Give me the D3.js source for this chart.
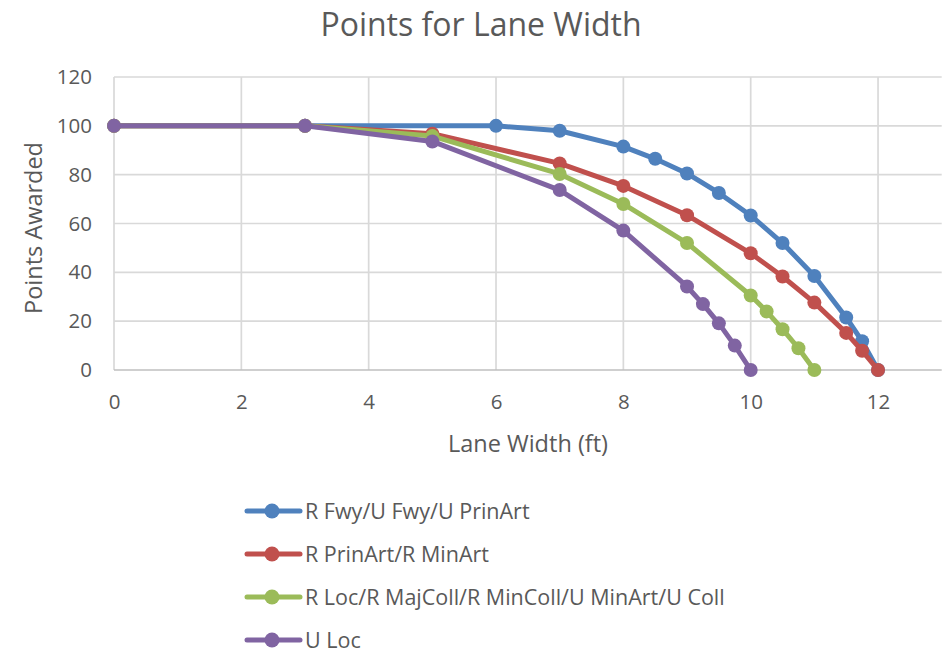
<!DOCTYPE html>
<html>
<head>
<meta charset="utf-8">
<script src="https://cdn.jsdelivr.net/npm/d3@7"></script>
<style>
  body { margin: 0; background: #fff; }
  svg { display: block; font-family: "Open Sans", sans-serif; }
</style>
</head>
<body>
<svg id="chart" width="952" height="654"></svg>
<script>
// ---- Data ----
const seriesNames = [
  "R Fwy/U Fwy/U PrinArt",
  "R PrinArt/R MinArt",
  "R Loc/R MajColl/R MinColl/U MinArt/U Coll",
  "U Loc"
];
const fwyX = [0, 3, 6, 7, 8, 8.5, 9, 9.5, 10, 10.5, 11, 11.5, 11.75, 12];
const fwyY = [100, 100, 100, 98, 91.5, 86.5, 80.5, 72.5, 63.3, 52, 38.5, 21.5, 11.8, 0];
const prinX = [0, 3, 5, 7, 8, 9, 10, 10.5, 11, 11.5, 11.75, 12];
const prinY = [100, 100, 96.8, 84.6, 75.4, 63.4, 47.8, 38.3, 27.6, 15.2, 7.9, 0];
const locX = [0, 3, 5, 7, 8, 9, 10, 10.25, 10.5, 10.75, 11];
const locY = [100, 100, 95.8, 80.3, 68, 52, 30.5, 24, 16.7, 8.9, 0];
const uLocX = [0, 3, 5, 7, 8, 9, 9.25, 9.5, 9.75, 10];
const uLocY = [100, 100, 93.6, 73.7, 57.1, 34.2, 27, 19.1, 10, 0];
const colors = ["#4F81BD", "#C0504D", "#9BBB59", "#8064A2"];
const xTicks = [0, 2, 4, 6, 8, 10, 12];
const yTicks = [0, 20, 40, 60, 80, 100, 120];

const seriesX = [fwyX, prinX, locX, uLocX];
const seriesY = [fwyY, prinY, locY, uLocY];

// ---- Chart ----
const svg = d3.select("#chart");
const pLeft = 114, pRight = 941.7, pTop = 77, pBottom = 370;
const x = d3.scaleLinear().domain([0, 13]).range([pLeft, pRight]);
const y = d3.scaleLinear().domain([0, 120]).range([pBottom, pTop]);
const textColor = "#595959";

// gridlines
svg.append("g").selectAll("line").data(yTicks.filter(d => d > 0)).join("line")
  .attr("x1", pLeft).attr("x2", pRight)
  .attr("y1", d => y(d)).attr("y2", d => y(d))
  .attr("stroke", "#d9d9d9").attr("stroke-width", 1.7);
svg.append("g").selectAll("line").data(xTicks).join("line")
  .attr("x1", d => x(d)).attr("x2", d => x(d))
  .attr("y1", pTop).attr("y2", pBottom)
  .attr("stroke", "#d9d9d9").attr("stroke-width", 1.7);
// bottom axis line
svg.append("line").attr("x1", pLeft).attr("x2", pRight)
  .attr("y1", pBottom).attr("y2", pBottom)
  .attr("stroke", "#bfbfbf").attr("stroke-width", 1.7);

// axes (labels only)
const xAxis = d3.axisBottom(x).tickValues(xTicks).tickSize(0).tickPadding(0).tickFormat(d3.format("d"));
const gx = svg.append("g").attr("transform", `translate(0,${pBottom})`).call(xAxis);
gx.select(".domain").remove();
gx.selectAll("text").attr("fill", textColor).attr("font-size", 20.5)
  .attr("font-family", "Open Sans, sans-serif").attr("y", 39).attr("dy", 0);

const yAxis = d3.axisLeft(y).tickValues(yTicks).tickSize(0).tickPadding(0).tickFormat(d3.format("d"));
const gy = svg.append("g").attr("transform", `translate(${pLeft - 22},0)`).call(yAxis);
gy.select(".domain").remove();
gy.selectAll("text").attr("fill", textColor).attr("font-size", 20.5)
  .attr("font-family", "Open Sans, sans-serif");

// series
const line = d3.line().x(d => x(d[0])).y(d => y(d[1]));
seriesNames.forEach((name, i) => {
  const pts = seriesX[i].map((v, k) => [v, seriesY[i][k]]);
  const g = svg.append("g");
  g.append("path").datum(pts).attr("d", line)
    .attr("fill", "none").attr("stroke", colors[i]).attr("stroke-width", 5)
    .attr("stroke-linejoin", "round").attr("stroke-linecap", "round");
  g.selectAll("circle").data(pts).join("circle")
    .attr("cx", d => x(d[0])).attr("cy", d => y(d[1])).attr("r", 7)
    .attr("fill", colors[i]);
});

// title
svg.append("text").attr("x", 481).attr("y", 36).attr("text-anchor", "middle")
  .attr("font-size", 32).attr("fill", textColor).text("Points for Lane Width");
// axis titles
svg.append("text").attr("x", 528).attr("y", 452).attr("text-anchor", "middle")
  .attr("font-size", 23.5).attr("fill", textColor).text("Lane Width (ft)");
svg.append("text").attr("transform", "translate(42,228) rotate(-90)").attr("text-anchor", "middle")
  .attr("font-size", 23.5).attr("fill", textColor).text("Points Awarded");

// legend
const legY = [511, 554, 597, 640];
seriesNames.forEach((name, i) => {
  const g = svg.append("g").attr("transform", `translate(0,${legY[i]})`);
  g.append("line").attr("x1", 247).attr("x2", 300).attr("y1", 0).attr("y2", 0)
    .attr("stroke", colors[i]).attr("stroke-width", 5).attr("stroke-linecap", "round");
  g.append("circle").attr("cx", 272).attr("cy", 0).attr("r", 7.5).attr("fill", colors[i]);
  g.append("text").attr("x", 305).attr("y", 0).attr("dy", "0.35em")
    .attr("font-size", 21.5).attr("fill", textColor).text(name);
});
</script>
</body>
</html>
